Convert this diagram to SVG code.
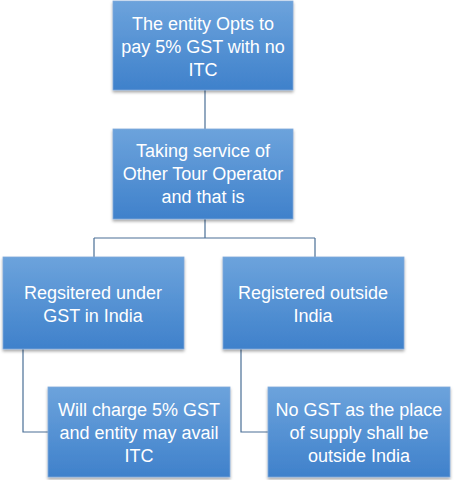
<svg xmlns="http://www.w3.org/2000/svg" width="457" height="480" viewBox="0 0 457 480">
<style>
.box{fill:url(#g);stroke:#7fa9d9;stroke-width:0.8}
.t{font-family:"Liberation Sans",Arial,sans-serif;font-size:18px;fill:#ffffff;text-anchor:middle}
.c{fill:none;stroke:#4a6f96;stroke-width:1.2}
</style>
<defs>
<linearGradient id="g" x1="0" y1="0" x2="0" y2="1">
<stop offset="0" stop-color="#6ca3dc"/>
<stop offset="1" stop-color="#3f81cb"/>
</linearGradient>
<filter id="sh" x="-10%" y="-10%" width="120%" height="130%">
<feDropShadow dx="0" dy="2" stdDeviation="1.5" flood-color="#000" flood-opacity="0.35"/>
</filter>
</defs>
<rect width="457" height="480" fill="#ffffff"/>
<g id="connectors">
<path class="c" d="M205 90V129"/>
<path class="c" d="M205 219V238M94 238H315M94 238V257M315 238V257"/>
<path class="c" d="M23 349V432H48"/>
<path class="c" d="M241 349V432H268"/>
</g>
<g id="n1"><rect class="box" x="113" y="1" width="180" height="89" filter="url(#sh)"/>
<text class="t" x="203" y="30">The entity Opts to</text>
<text class="t" x="203" y="53">pay 5% GST with no</text>
<text class="t" x="203" y="76">ITC</text></g>
<g id="n2"><rect class="box" x="113" y="129" width="180" height="90" filter="url(#sh)"/>
<text class="t" x="203" y="157">Taking service of</text>
<text class="t" x="203" y="180">Other Tour Operator</text>
<text class="t" x="203" y="203">and that is</text></g>
<g id="n3"><rect class="box" x="3" y="257" width="181" height="92" filter="url(#sh)"/>
<text class="t" x="93" y="299">Regsitered under</text>
<text class="t" x="93" y="322">GST in India</text></g>
<g id="n4"><rect class="box" x="223" y="257" width="181" height="92" filter="url(#sh)"/>
<text class="t" x="313" y="299">Registered outside</text>
<text class="t" x="313" y="322">India</text></g>
<g id="n5"><rect class="box" x="48" y="387" width="182" height="90" filter="url(#sh)"/>
<text class="t" x="139" y="416">Will charge 5% GST</text>
<text class="t" x="139" y="439">and entity may avail</text>
<text class="t" x="139" y="462">ITC</text></g>
<g id="n6"><rect class="box" x="268" y="387" width="182" height="90" filter="url(#sh)"/>
<text class="t" x="359" y="416">No GST as the place</text>
<text class="t" x="359" y="439">of supply shall be</text>
<text class="t" x="359" y="462">outside India</text></g>
</svg>
